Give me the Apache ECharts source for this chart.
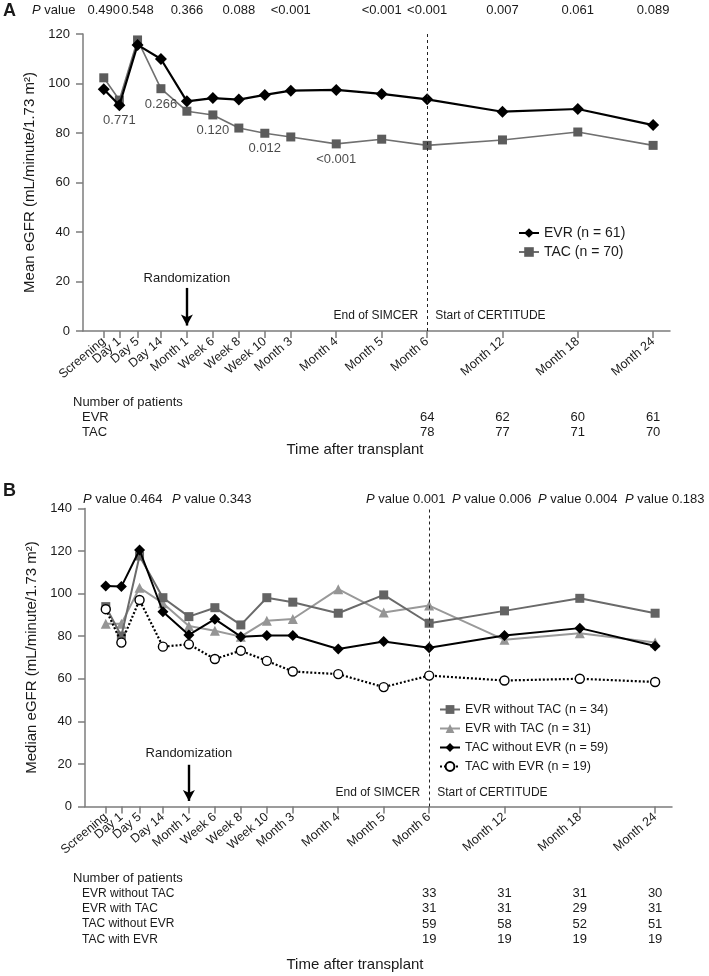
<!DOCTYPE html>
<html><head><meta charset="utf-8">
<script src="https://cdn.jsdelivr.net/npm/echarts@6/dist/echarts.min.js"></script>
<style>html,body{margin:0;padding:0;background:#fff}#c{width:709px;height:976px}</style>
</head><body><div id="c"></div>
<script>
// ---------- data ----------
const timeLabels = ['Screening','Day 1','Day 5','Day 14','Month 1','Week 6','Week 8','Week 10','Month 3','Month 4','Month 5','Month 6','Month 12','Month 18','Month 24'];
// position of each visit on the (non-linear) time axis of the figure
const timeAxisPos = [0.8,1.4,2.1,3,4,5,6,7,8,9.75,11.5,13.25,16.15,19.05,21.95];
const axisMin = 0, axisMax = 22.6;

// Panel A: mean eGFR
const evrMean = [97.7,91.2,115.6,109.9,92.8,94.1,93.5,95.4,97.1,97.4,95.8,93.6,88.6,89.7,83.2];
const tacMean = [102.3,93.3,117.6,97.9,88.8,87.3,82.0,79.9,78.4,75.6,77.5,75.0,77.2,80.4,75.0];
const pTopALabels = ['0.490','0.548','0.366','0.088','<0.001','<0.001','<0.001','0.007','0.061','0.089'];
const pTopAIdx = [0,2,4,6,8,10,11,12,13,14];
const pInALabels = ['0.771','0.266','0.120','0.012','<0.001'];
const pInAIdx = [1,3,5,7,9];
const nTimesIdx = [11,12,13,14];
const nEvrA = [64,62,60,61];
const nTacA = [78,77,71,70];

// Panel B: median eGFR
const evrNoTac = [93.9,80.1,117.7,98.1,89.2,93.4,85.3,98.1,96.0,90.8,99.4,86.1,91.9,97.8,90.8];
const evrWithTac = [85.8,85.8,102.8,95.5,84.8,82.6,79.8,87.3,88.1,102.1,91.1,94.4,78.3,81.4,77.0];
const tacNoEvr = [103.6,103.3,120.5,91.5,80.6,88.0,79.8,80.3,80.3,74.0,77.5,74.6,80.3,83.8,75.4];
const tacWithEvr = [92.7,77.0,97.0,75.1,76.2,69.3,73.2,68.4,63.4,62.2,56.1,61.5,59.2,60.0,58.5];
const pTopBLabels = ['0.464','0.343','0.001','0.006','0.004','0.183'];
const nEvrNoTac = [33,31,31,30];
const nEvrWithTac = [31,31,29,31];
const nTacNoEvr = [59,58,52,51];
const nTacWithEvr = [19,19,19,19];

// ---------- chart ----------
const FONT = "'Liberation Sans', Arial, Helvetica, sans-serif";
const TXT = '#1a1a1a';
const AX = '#7c7c7c';
const pts = vals => vals.map((v,i)=>[timeAxisPos[i], v]);
const labelFor = v => { const i = timeAxisPos.findIndex(p => Math.abs(p - v) < 1e-6); return i >= 0 ? timeLabels[i] : ''; };
// blank labels at both ends so that the real first/last labels are never auto-hidden
const labelValues = [axisMin].concat(timeAxisPos, [axisMax]);

function xAxisCfg(g){
  return {type:'value', gridIndex:g, min:axisMin, max:axisMax,
    axisLine:{show:true, onZero:false, lineStyle:{color:AX, width:1.5}},
    axisTick:{show:true, customValues:timeAxisPos, length:7, lineStyle:{color:AX, width:1.5}},
    axisLabel:{show:true, customValues:labelValues, rotate:40, fontSize:12.5, color:TXT, margin:9, formatter:labelFor,
      hideOverlap:false},
    splitLine:{show:false}};
}
function yAxisCfg(g, max, name){
  return {type:'value', gridIndex:g, min:0, max:max, interval:20,
    name:name, nameLocation:'middle', nameGap:45, nameTextStyle:{fontSize:15, color:TXT},
    axisLine:{show:true, lineStyle:{color:AX, width:1.5}},
    axisTick:{show:true, length:7, lineStyle:{color:AX, width:1.5}},
    axisLabel:{fontSize:13, color:TXT, margin:13, showMinLabel:true, showMaxLabel:true},
    splitLine:{show:false}};
}
const vline = (g) => ({silent:true, symbol:'none', label:{show:false},
  lineStyle:{type:[3,3], color:'#222', width:1}, emphasis:{disabled:true},
  data:[{xAxis:timeAxisPos[11]}]});

const option = {
  animation:false,
  textStyle:{fontFamily:FONT},
  grid:[
    {left:83, top:34, width:587, height:297},
    {left:85, top:508.5, width:587, height:298}
  ],
  xAxis:[xAxisCfg(0), xAxisCfg(1)],
  yAxis:[yAxisCfg(0,120,'Mean eGFR (mL/minute/1.73 m²)'), yAxisCfg(1,140,'Median eGFR (mL/minute/1.73 m²)')],
  legend:[
    {data:['EVR (n = 61)','TAC (n = 70)'], orient:'vertical', left:513, top:221, itemWidth:20, itemHeight:12, itemGap:5,
     textStyle:{fontSize:14, color:TXT}, selectedMode:false},
    {data:['EVR without TAC (n = 34)','EVR with TAC (n = 31)','TAC without EVR (n = 59)','TAC with EVR (n = 19)'],
     orient:'vertical', left:434, top:698, itemWidth:20, itemHeight:11, itemGap:6,
     textStyle:{fontSize:12.5, color:TXT}, selectedMode:false}
  ],
  series:[
    {name:'TAC (n = 70)', type:'line', xAxisIndex:0, yAxisIndex:0, data:pts(tacMean),
     symbol:'rect', symbolSize:9, itemStyle:{color:'#5c5c5c'}, lineStyle:{color:'#707070', width:1.6}, z:2, markLine:vline(0)},
    {name:'EVR (n = 61)', type:'line', xAxisIndex:0, yAxisIndex:0, data:pts(evrMean),
     symbol:'diamond', symbolSize:12, itemStyle:{color:'#000'}, lineStyle:{color:'#000', width:2.2}, z:3,
     markLine:{silent:true, symbol:['none','arrow'], symbolSize:[9,11], label:{show:false},
       lineStyle:{color:'#000', width:2.4, type:'solid'},
       data:[[{coord:[timeAxisPos[4],17.4]},{coord:[timeAxisPos[4],2.2]}]]}},
    {name:'pA', type:'scatter', xAxisIndex:0, yAxisIndex:0, silent:true, symbolSize:0.1,
     itemStyle:{color:'rgba(0,0,0,0)'},
     data:pInAIdx.map((t,k)=>({value:[timeAxisPos[t], Math.min(evrMean[t], tacMean[t])], name:pInALabels[k]})),
     label:{show:true, position:'bottom', distance:9, formatter:'{b}', fontSize:13, color:TXT}, z:5},

    {name:'EVR without TAC (n = 34)', type:'line', xAxisIndex:1, yAxisIndex:1, data:pts(evrNoTac),
     symbol:'rect', symbolSize:9, itemStyle:{color:'#646464'}, lineStyle:{color:'#6a6a6a', width:2}, z:3, markLine:vline(1)},
    {name:'EVR with TAC (n = 31)', type:'line', xAxisIndex:1, yAxisIndex:1, data:pts(evrWithTac),
     symbol:'triangle', symbolSize:10, itemStyle:{color:'#959595'}, lineStyle:{color:'#999', width:2}, z:2},
    {name:'TAC without EVR (n = 59)', type:'line', xAxisIndex:1, yAxisIndex:1, data:pts(tacNoEvr),
     symbol:'diamond', symbolSize:11, itemStyle:{color:'#000'}, lineStyle:{color:'#000', width:2}, z:4,
     markLine:{silent:true, symbol:['none','arrow'], symbolSize:[9,11], label:{show:false},
       lineStyle:{color:'#000', width:2.4, type:'solid'},
       data:[[{coord:[timeAxisPos[4],19.6]},{coord:[timeAxisPos[4],2.6]}]]}},
    {name:'TAC with EVR (n = 19)', type:'line', xAxisIndex:1, yAxisIndex:1, data:pts(tacWithEvr),
     symbol:'circle', symbolSize:9, itemStyle:{color:'#fff', borderColor:'#000', borderWidth:1.4},
     lineStyle:{color:'#000', width:2.2, type:[2,2]}, z:5}
  ]
};

const chart = echarts.init(document.getElementById('c'), null, {renderer:'canvas'});
chart.setOption(option);

// ---------- text annotations ----------
const G = [];
function T(x, y, text, opt){
  G.push({type:'text', x:x, y:y, silent:true, z:10,
    style:Object.assign({text:text, fontSize:13, fontFamily:FONT, fill:TXT, align:'center', verticalAlign:'middle'}, opt||{})});
}
const px = (g, i) => chart.convertToPixel({gridIndex:g}, [timeAxisPos[i], 0])[0];
const pRich = {i:{fontStyle:'italic', fontSize:13, fontFamily:FONT, fill:TXT}};

// Panel A
T(3, 11, 'A', {fontSize:18, fontWeight:'bold', align:'left'});
T(32, 10, '{i|P} value', {align:'left', rich:pRich});
pTopAIdx.forEach((t,k)=>T(px(0,t), 10, pTopALabels[k]));
T(px(0,4), 278, 'Randomization', {fontSize:13});
T(px(0,11)-9, 316, 'End of SIMCER', {fontSize:12, align:'right'});
T(px(0,11)+8, 316, 'Start of CERTITUDE', {fontSize:12, align:'left'});
T(73, 402, 'Number of patients', {align:'left'});
T(82, 417.5, 'EVR', {align:'left'});
T(82, 432.5, 'TAC', {align:'left'});
nTimesIdx.forEach((t,k)=>{ T(px(0,t), 417.5, String(nEvrA[k])); T(px(0,t), 432.5, String(nTacA[k])); });
T(355, 450, 'Time after transplant', {fontSize:15});

// Panel B
T(3, 491, 'B', {fontSize:18, fontWeight:'bold', align:'left'});
const pBLeft = [83, 172, 366, 452, 538, 625];
pTopBLabels.forEach((s,k)=>T(pBLeft[k], 499, '{i|P} value ' + s, {align:'left', rich:pRich}));
T(px(1,4), 753, 'Randomization', {fontSize:13});
T(px(1,11)-9, 793, 'End of SIMCER', {fontSize:12, align:'right'});
T(px(1,11)+8, 793, 'Start of CERTITUDE', {fontSize:12, align:'left'});
T(73, 878, 'Number of patients', {align:'left'});
const rowsB = [['EVR without TAC', nEvrNoTac], ['EVR with TAC', nEvrWithTac], ['TAC without EVR', nTacNoEvr], ['TAC with EVR', nTacWithEvr]];
rowsB.forEach((r,j)=>{
  const y = 893.5 + j*15.3;
  T(82, y, r[0], {align:'left', fontSize:12});
  nTimesIdx.forEach((t,k)=>T(px(1,t), y, String(r[1][k])));
});
T(355, 965, 'Time after transplant', {fontSize:15});

chart.setOption({graphic:G});
</script>
</body></html>
